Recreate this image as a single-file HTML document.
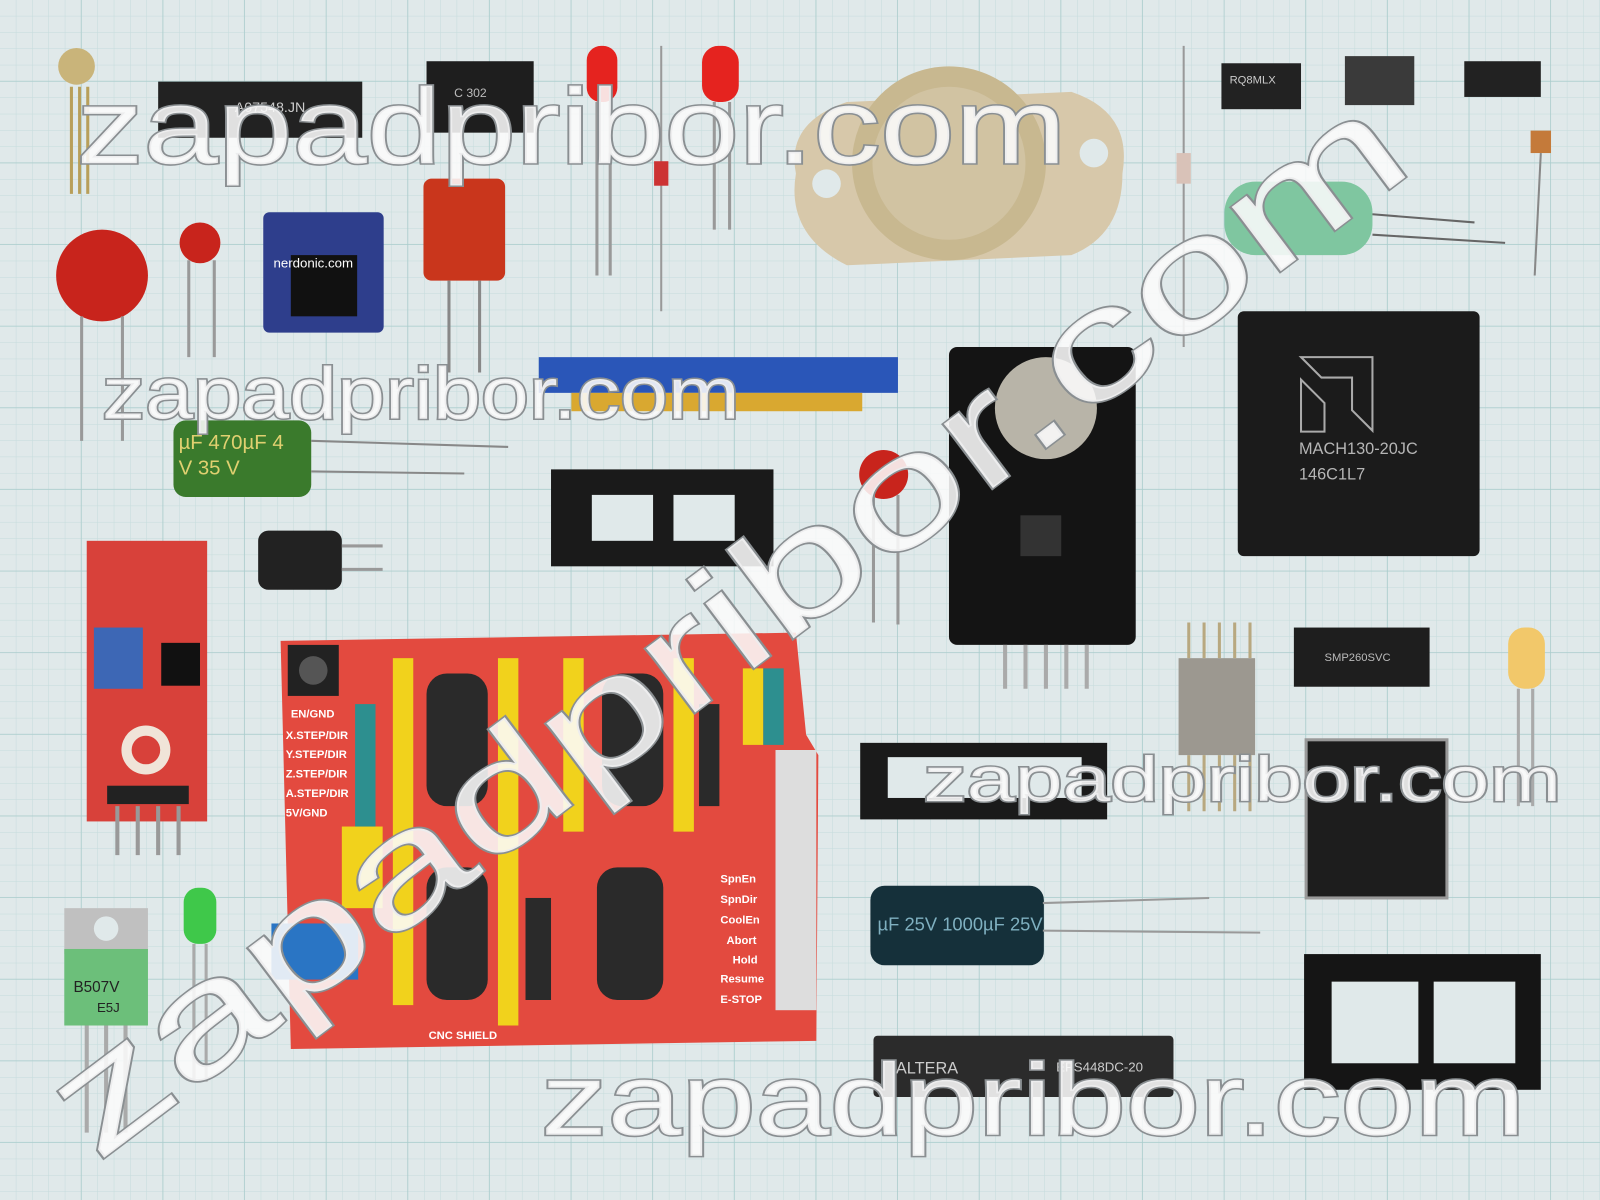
<!DOCTYPE html>
<html><head><meta charset="utf-8">
<style>
html,body{margin:0;padding:0;width:1600px;height:1200px;overflow:hidden;background:#dfe8e9}
svg{display:block}
.wm{font-family:"Liberation Sans",sans-serif;fill:#fafafa;fill-opacity:0.88;stroke:#8a8f92;stroke-width:3;paint-order:stroke;font-weight:normal}
.t{font-family:"Liberation Sans",sans-serif}
</style></head><body>
<svg width="1600" height="1200" viewBox="0 0 1568 1176" preserveAspectRatio="none" xmlns="http://www.w3.org/2000/svg">
<defs>
<pattern id="g1" width="16" height="16" patternUnits="userSpaceOnUse"><path d="M16 0V16H0" fill="none" stroke="#c5dcdc" stroke-width="1"/></pattern>
<pattern id="g2" width="80" height="80" patternUnits="userSpaceOnUse"><path d="M80 0V80H0" fill="none" stroke="#a9cccc" stroke-width="1.5"/></pattern>
</defs>
<rect width="1568" height="1176" fill="#e0e9ea"/>
<rect width="1568" height="1176" fill="url(#g1)"/>
<rect width="1568" height="1176" fill="url(#g2)"/>

<ellipse cx="75" cy="65" rx="18" ry="18" fill="#c9b47a"/>
<path d="M70 85V190M78 85V190M86 85V190" stroke="#b89f5a" stroke-width="3"/>
<rect x="155" y="80" width="200" height="55" fill="#222"/>
<text x="230" y="110" class="t" fill="#ccc" font-size="14">A07548.JN</text>
<rect x="418" y="60" width="105" height="70" fill="#1e1e1e"/>
<text x="445" y="95" class="t" fill="#bbb" font-size="12">C 302</text>
<rect x="575" y="45" width="30" height="55" rx="14" fill="#e5231f"/>
<path d="M585 100V270M598 100V270" stroke="#999" stroke-width="3"/>
<rect x="688" y="45" width="36" height="55" rx="16" fill="#e5231f"/>
<path d="M700 100V225M715 100V225" stroke="#999" stroke-width="3"/>
<path d="M648 45V305" stroke="#999" stroke-width="2"/><rect x="641" y="158" width="14" height="24" fill="#c33"/>
<path d="M780 170 Q770 120 830 100 L1050 90 Q1110 110 1100 170 Q1100 230 1050 250 L830 260 Q770 230 780 170Z" fill="#d7c8aa"/>
<circle cx="930" cy="160" r="95" fill="#c8b890"/><circle cx="930" cy="160" r="75" fill="#d1c3a2"/>
<circle cx="810" cy="180" r="14" fill="#e0e9ea"/><circle cx="1072" cy="150" r="14" fill="#e0e9ea"/>
<circle cx="100" cy="270" r="45" fill="#c8241c"/>
<path d="M80 310V432M120 310V432" stroke="#999" stroke-width="3"/>
<circle cx="196" cy="238" r="20" fill="#c8241c"/><path d="M185 255V350M210 255V350" stroke="#999" stroke-width="3"/>
<rect x="258" y="208" width="118" height="118" rx="6" fill="#2e3e8c"/>
<rect x="285" y="250" width="65" height="60" fill="#111"/>
<text x="268" y="262" class="t" fill="#fff" font-size="13">nerdonic.com</text>
<rect x="415" y="175" width="80" height="100" rx="8" fill="#c9361c"/>
<path d="M440 275V365M470 275V365" stroke="#888" stroke-width="3"/>
<rect x="1197" y="62" width="78" height="45" fill="#222"/><text x="1205" y="82" class="t" fill="#ccc" font-size="11">RQ8MLX</text>
<rect x="1318" y="55" width="68" height="48" fill="#3a3a3a"/>
<rect x="1435" y="60" width="75" height="35" fill="#222"/>
<path d="M1160 45V340" stroke="#999" stroke-width="2"/><rect x="1153" y="150" width="14" height="30" fill="#d9c2b8"/>
<rect x="1200" y="178" width="145" height="72" rx="30" fill="#7fc6a0"/>
<path d="M1345 210L1445 218M1345 230L1475 238" stroke="#666" stroke-width="2"/>
<rect x="1500" y="128" width="20" height="22" fill="#c47a3a"/><path d="M1510 150L1504 270" stroke="#888" stroke-width="2"/>
<rect x="1213" y="305" width="237" height="240" rx="6" fill="#1b1b1b"/>
<path d="M1275 350H1345V422L1325 402V370H1295Z M1275 372L1298 395V423H1275Z" fill="none" stroke="#aaa" stroke-width="2"/>
<text x="1273" y="445" class="t" fill="#b5b5b5" font-size="16">MACH130-20JC</text>
<text x="1273" y="470" class="t" fill="#b5b5b5" font-size="16">146C1L7</text>
<rect x="528" y="350" width="352" height="35" fill="#2a56b8"/>
<rect x="560" y="385" width="285" height="18" fill="#d9a830"/>
<rect x="170" y="412" width="135" height="75" rx="12" fill="#3a7a2c"/>
<text x="175" y="440" class="t" fill="#e0d070" font-size="20">µF 470µF 4</text>
<text x="175" y="465" class="t" fill="#e0d070" font-size="20">V  35  V</text>
<path d="M305 432L498 438M305 462L455 464" stroke="#888" stroke-width="2"/>
<rect x="930" y="340" width="183" height="292" rx="8" fill="#141414"/>
<circle cx="1025" cy="400" r="50" fill="#b8b4a8"/>
<rect x="1000" y="505" width="40" height="40" fill="#333"/>
<path d="M985 632V675M1005 632V675M1025 632V675M1045 632V675M1065 632V675" stroke="#aaa" stroke-width="4"/>
<rect x="540" y="460" width="218" height="95" fill="#1a1a1a"/>
<rect x="580" y="485" width="60" height="45" fill="#e0e9ea"/><rect x="660" y="485" width="60" height="45" fill="#e0e9ea"/>
<rect x="253" y="520" width="82" height="58" rx="10" fill="#222"/>
<path d="M335 535H375M335 558H375" stroke="#999" stroke-width="3"/>
<circle cx="866" cy="465" r="24" fill="#c8241c"/><path d="M856 485V610M880 485V612" stroke="#999" stroke-width="3"/>
<rect x="85" y="530" width="118" height="275" fill="#d8413a"/>
<rect x="92" y="615" width="48" height="60" fill="#3d67b5"/>
<circle cx="143" cy="735" r="24" fill="#f0e4d8"/><circle cx="143" cy="735" r="14" fill="#d8413a"/>
<rect x="158" y="630" width="38" height="42" fill="#111"/>
<rect x="105" y="770" width="80" height="18" fill="#222"/>
<path d="M115 790V838M135 790V838M155 790V838M175 790V838" stroke="#999" stroke-width="4"/>
<path d="M275 628L780 620L790 720L802 740L800 1020L285 1028Z" fill="#e34a3f"/>
<rect x="282" y="632" width="50" height="50" fill="#222"/><circle cx="307" cy="657" r="14" fill="#555"/>
<g fill="#f1d21c"><rect x="385" y="645" width="20" height="340"/><rect x="488" y="645" width="20" height="360"/><rect x="552" y="645" width="20" height="170"/><rect x="660" y="645" width="20" height="170"/><rect x="728" y="655" width="20" height="75"/><rect x="335" y="810" width="40" height="80"/></g>
<g fill="#2d8f8f"><rect x="348" y="690" width="20" height="120"/><rect x="748" y="655" width="20" height="75"/></g>
<g fill="#2a2a2a"><rect x="418" y="660" width="60" height="130" rx="20"/><rect x="590" y="660" width="60" height="130" rx="20"/><rect x="418" y="850" width="60" height="130" rx="20"/><rect x="585" y="850" width="65" height="130" rx="20"/><rect x="515" y="880" width="25" height="100"/><rect x="685" y="690" width="20" height="100"/></g>
<rect x="760" y="735" width="40" height="255" fill="#ddd"/>
<rect x="266" y="905" width="85" height="55" fill="#2a75c4"/>
<g class="t" fill="#fff" font-size="11" font-weight="bold"><text x="285" y="703">EN/GND</text><text x="280" y="724">X.STEP/DIR</text><text x="280" y="743">Y.STEP/DIR</text><text x="280" y="762">Z.STEP/DIR</text><text x="280" y="781">A.STEP/DIR</text><text x="280" y="800">5V/GND</text><text x="706" y="865">SpnEn</text><text x="706" y="885">SpnDir</text><text x="706" y="905">CoolEn</text><text x="712" y="925">Abort</text><text x="718" y="944">Hold</text><text x="706" y="963">Resume</text><text x="706" y="983">E-STOP</text><text x="420" y="1018">CNC SHIELD</text></g>
<rect x="843" y="728" width="242" height="75" fill="#1a1a1a"/><rect x="870" y="742" width="190" height="40" fill="#e0e9ea"/>
<rect x="1155" y="645" width="75" height="95" fill="#9c9890"/>
<path d="M1165 610V645M1180 610V645M1195 610V645M1210 610V645M1225 610V645M1165 740V795M1180 740V795M1195 740V795M1210 740V795M1225 740V795" stroke="#b8a880" stroke-width="3"/>
<rect x="1268" y="615" width="133" height="58" fill="#1e1e1e"/>
<text x="1298" y="648" class="t" fill="#bbb" font-size="11">SMP260SVC</text>
<rect x="1478" y="615" width="36" height="60" rx="16" fill="#f2c86a"/><path d="M1488 675V790M1502 675V790" stroke="#aaa" stroke-width="3"/>
<rect x="1280" y="725" width="138" height="155" fill="#1d1d1d" stroke="#999" stroke-width="3"/>
<rect x="853" y="868" width="170" height="78" rx="14" fill="#15303a"/>
<text x="860" y="912" class="t" fill="#7fb0c0" font-size="18">µF 25V 1000µF 25V</text>
<path d="M1022 885L1185 880M1022 912L1235 914" stroke="#999" stroke-width="2"/>
<rect x="1278" y="935" width="232" height="133" fill="#151515"/>
<rect x="1305" y="962" width="85" height="80" fill="#e0e9ea"/><rect x="1405" y="962" width="80" height="80" fill="#e0e9ea"/>
<rect x="856" y="1015" width="294" height="60" rx="4" fill="#2b2b2b"/>
<text x="878" y="1052" class="t" fill="#ccc" font-size="16">ALTERA</text><text x="1035" y="1050" class="t" fill="#ccc" font-size="13">EPS448DC-20</text>
<rect x="63" y="890" width="82" height="45" fill="#c0c0c0"/><circle cx="104" cy="910" r="12" fill="#e0e9ea"/>
<rect x="63" y="930" width="82" height="75" fill="#6cbf7a"/>
<text x="72" y="972" class="t" fill="#222" font-size="15">B507V</text><text x="95" y="992" class="t" fill="#222" font-size="13">E5J</text>
<path d="M85 1005V1110M104 1005V1110M123 1005V1110" stroke="#aaa" stroke-width="4"/>
<rect x="180" y="870" width="32" height="55" rx="14" fill="#3fc84a"/><path d="M190 925V1060M202 925V1060" stroke="#aaa" stroke-width="3"/>

<text class="wm" x="75" y="160" font-size="105" textLength="970" lengthAdjust="spacingAndGlyphs">zapadpribor.com</text>
<text class="wm" x="100" y="410" font-size="72" textLength="625" lengthAdjust="spacingAndGlyphs">zapadpribor.com</text>
<text class="wm" x="905" y="785" font-size="62" textLength="625" lengthAdjust="spacingAndGlyphs">zapadpribor.com</text>
<text class="wm" x="530" y="1112" font-size="100" textLength="965" lengthAdjust="spacingAndGlyphs">zapadpribor.com</text>
<text class="wm" x="0" y="0" font-size="150" textLength="1620" lengthAdjust="spacingAndGlyphs" transform="translate(95,1140) rotate(-37)">zapadpribor.com</text>
</svg>
</body></html>
